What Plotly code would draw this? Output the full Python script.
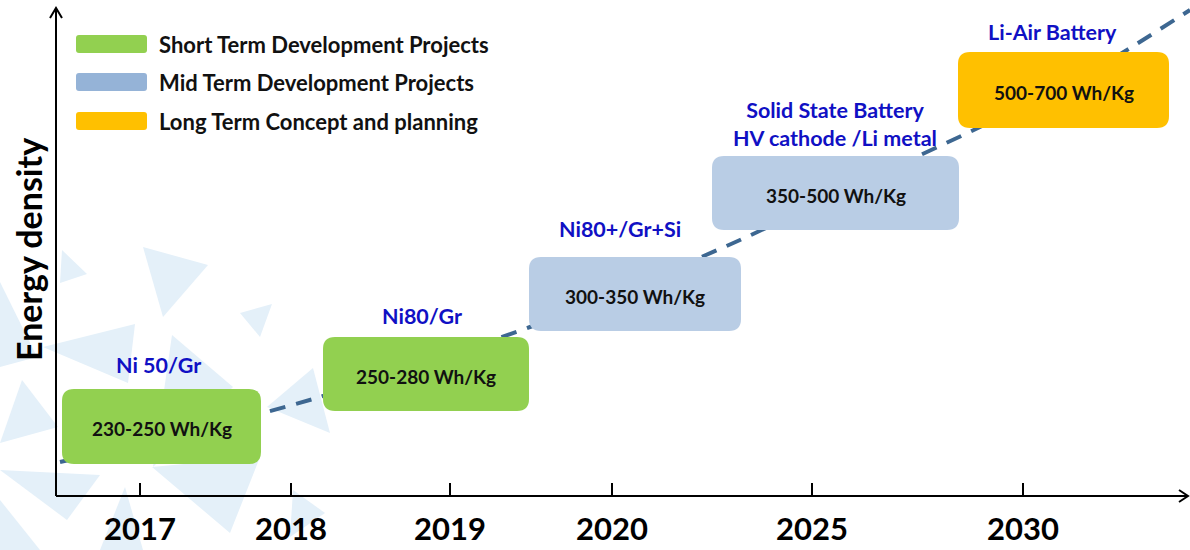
import plotly.graph_objects as go

# ---- data ---------------------------------------------------------------
years = ["2017", "2018", "2019", "2020", "2025", "2030"]

technologies = [
    "Ni 50/Gr",
    "Ni80/Gr",
    "Ni80+/Gr+Si",
    "Solid State Battery<br>HV cathode /Li metal",
    "Li-Air Battery",
]
density_low = [230, 250, 300, 350, 500]
density_high = [250, 280, 350, 500, 700]
stage = ["short", "short", "mid", "mid", "long"]

stage_names = {
    "short": "Short Term Development Projects",
    "mid": "Mid Term Development Projects",
    "long": "Long Term Concept and planning",
}

# ---- layout (canvas units: 1 unit = 1 px, y grows downward) -------------
W, H = 1190, 550
AXIS_X, AXIS_Y = 56, 496
tick_x = [140, 291, 450, 612, 812, 1023]

box_rects = [  # x0, x1, y0, y1
    (62, 261, 389, 464),
    (323, 529, 337, 411),
    (529, 741, 257, 331),
    (712, 959, 156, 230),
    (958, 1169, 52, 128),
]
tech_label_pos = [(158, 365), (422, 316), (620, 229), (835, 124), (1052, 32)]

# trend curve through the development stages
trend_x = [60, 190, 313, 420, 530, 640, 740, 860, 980, 1090, 1190]
trend_y = [462, 432, 399, 364, 327, 283, 240, 183, 127, 72, 10]

box_fill = {"short": "#92d050", "mid": "#b9cde5", "long": "#ffc000"}
swatch_fill = {"short": "#92d050", "mid": "#95b3d7", "long": "#ffc000"}
LABEL_BLUE = "#1010c4"
FONT = "Lato"

# decorative background triangles
triangles = [
    [(143, 247), (208, 265), (163, 317)],
    [(62, 250), (87, 274), (60, 283)],
    [(240, 313), (272, 304), (260, 337)],
    [(0, 282), (37, 357), (0, 367)],
    [(43, 347), (135, 324), (128, 383)],
    [(172, 335), (233, 387), (153, 467)],
    [(22, 380), (58, 427), (0, 443)],
    [(267, 407), (313, 368), (330, 433)],
    [(0, 470), (100, 475), (67, 520)],
    [(125, 487), (143, 550), (100, 550)],
    [(152, 467), (260, 457), (230, 533)],
    [(293, 490), (325, 513), (290, 537)],
    [(0, 500), (40, 550), (0, 550)],
]


def rounded_rect(x0, x1, y0, y1, r):
    return (
        f"M {x0 + r},{y0} L {x1 - r},{y0} Q {x1},{y0} {x1},{y0 + r} "
        f"L {x1},{y1 - r} Q {x1},{y1} {x1 - r},{y1} "
        f"L {x0 + r},{y1} Q {x0},{y1} {x0},{y1 - r} "
        f"L {x0},{y0 + r} Q {x0},{y0} {x0 + r},{y0} Z"
    )


fig = go.Figure()

fig.add_trace(
    go.Scatter(
        x=trend_x,
        y=trend_y,
        mode="lines",
        line=dict(color="#3d6791", width=4, dash="16px,11px", shape="spline", smoothing=0.8),
        hoverinfo="skip",
        showlegend=False,
    )
)

shapes = []
for tri in triangles:
    path = "M " + " L ".join(f"{x},{y}" for x, y in tri) + " Z"
    shapes.append(dict(type="path", path=path, xref="x", yref="y",
                       fillcolor="#e4f0f9", line=dict(width=0), layer="below"))

# axes with open arrowheads
shapes += [
    dict(type="line", x0=AXIS_X, x1=W - 2, y0=AXIS_Y, y1=AXIS_Y, xref="x", yref="y",
         line=dict(color="black", width=2)),
    dict(type="line", x0=AXIS_X, x1=AXIS_X, y0=AXIS_Y, y1=8, xref="x", yref="y",
         line=dict(color="black", width=2)),
    dict(type="path", path=f"M {AXIS_X - 6},18 L {AXIS_X},8 L {AXIS_X + 6},18",
         xref="x", yref="y", line=dict(color="black", width=2)),
    dict(type="path", path=f"M {W - 11},{AXIS_Y - 6} L {W - 2},{AXIS_Y} L {W - 11},{AXIS_Y + 6}",
         xref="x", yref="y", line=dict(color="black", width=2)),
]

annotations = []
for i, (x0, x1, y0, y1) in enumerate(box_rects):
    shapes.append(dict(type="path", path=rounded_rect(x0, x1, y0, y1, 12), xref="x", yref="y",
                       fillcolor=box_fill[stage[i]], line=dict(width=0), layer="above"))
    annotations.append(dict(
        x=(x0 + x1) / 2, y=(y0 + y1) / 2 + 2, xref="x", yref="y",
        text=f"{density_low[i]}-{density_high[i]} Wh/Kg", showarrow=False,
        font=dict(family=FONT, size=19, color="#111111", weight="bold"),
    ))
    lx, ly = tech_label_pos[i]
    annotations.append(dict(
        x=lx, y=ly, xref="x", yref="y", text=technologies[i], showarrow=False,
        font=dict(family=FONT, size=21.5, color=LABEL_BLUE, weight="bold"),
        align="center",
    ))

# legend
legend_rows = [("short", 44), ("mid", 82), ("long", 121)]
for key, yc in legend_rows:
    shapes.append(dict(type="path", path=rounded_rect(76, 147, yc - 9, yc + 9, 3), xref="x", yref="y",
                       fillcolor=swatch_fill[key], line=dict(width=0), layer="above"))
    annotations.append(dict(
        x=157, y=yc, xref="x", yref="y", xanchor="left", text=stage_names[key],
        showarrow=False, font=dict(family=FONT, size=22, color="#111111", weight="bold"),
    ))

annotations.append(dict(
    x=28, y=250, xref="x", yref="y", text="Energy density", textangle=-90, showarrow=False,
    font=dict(family=FONT, size=34, color="black", weight="bold"),
))

fig.update_layout(
    width=W,
    height=H,
    margin=dict(l=0, r=0, t=0, b=0),
    paper_bgcolor="white",
    plot_bgcolor="white",
    shapes=shapes,
    annotations=annotations,
    showlegend=False,
    xaxis=dict(
        range=[0, W],
        anchor="free",
        position=(H - AXIS_Y) / H,
        showline=False,
        showgrid=False,
        zeroline=False,
        ticks="inside",
        ticklen=13,
        tickwidth=2,
        tickcolor="black",
        tickvals=tick_x,
        ticktext=years,
        ticklabelstandoff=12,
        tickfont=dict(family=FONT, size=31, color="black", weight="bold"),
        fixedrange=True,
    ),
    yaxis=dict(
        range=[H, 0],
        visible=False,
        fixedrange=True,
    ),
)

fig.write_html("out.html")
